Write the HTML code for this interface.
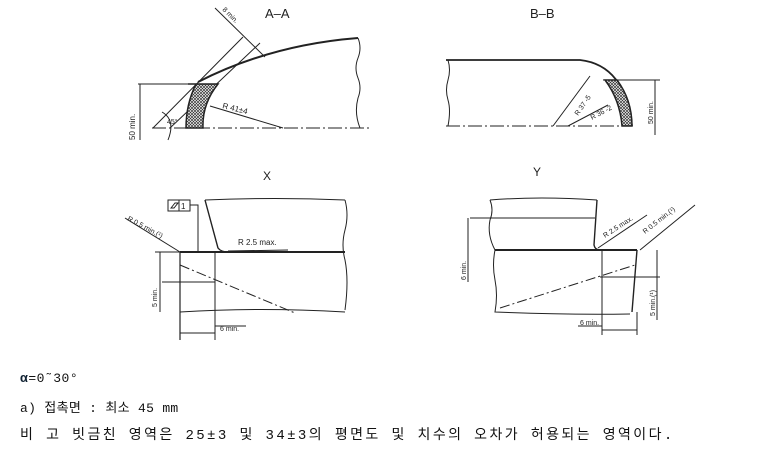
<!DOCTYPE html>
<html><head><meta charset="utf-8"><style>
body{margin:0;background:#fff;width:773px;height:450px;overflow:hidden}
svg{position:absolute;left:0;top:0}
.t{position:absolute;left:20px;font-family:"Liberation Mono","Noto Sans CJK KR",monospace;font-size:14px;color:#111;white-space:nowrap}
</style></head><body>
<svg width="773" height="450" font-family="Liberation Sans, sans-serif" fill="none" stroke="#222" stroke-width="1">
<defs>
<pattern id="h" width="3" height="3" patternUnits="userSpaceOnUse"><rect width="3" height="3" fill="#fff" stroke="none"/><path d="M0,0L3,3M3,0L0,3" stroke="#333" stroke-width="0.7"/></pattern>
</defs>
<text x="265" y="18" fill="#222" stroke="none" font-size="13">A–A</text>
<path d="M152,128H370" stroke-dasharray="14,3,2,3"/>
<path d="M198,82 Q270,45 358,38" stroke-width="2"/>
<path d="M358,38 q4,10 0,20 q-4,10 0,20 q4,10 0,20 q-4,15 2,30"/>
<path d="M153,128 L243,37 M170,128 L260,43"/>
<path d="M215,8 L265,57"/>
<path d="M138,84H218"/>
<path d="M140,84V140"/>
<path d="M188,84 H218 Q202,104 203,128 H186 Q186,104 196,84Z" fill="url(#h)" stroke-width="1.5"/>
<path d="M210,106 L283,128"/>
<text x="222" y="108" fill="#222" stroke="none" font-size="8" transform="rotate(14 222 108)">R 41±4</text>
<text x="135" y="140" fill="#222" stroke="none" font-size="8" transform="rotate(-90 135 140)">50 min.</text>
<text x="167" y="124" fill="#222" stroke="none" font-size="7">45°</text>
<text x="222" y="10" fill="#222" stroke="none" font-size="7" transform="rotate(45 222 10)">8 min.</text>
<path d="M162,112 q14,8 6,28"/>
<text x="530" y="18" fill="#222" stroke="none" font-size="13">B–B</text>
<path d="M446,60 H580 Q625,65 632,126" stroke-width="1.8"/>
<path d="M448,60 q3,10 0,20 q-3,10 0,20 q3,10 0,26"/>
<path d="M446,126H632" stroke-dasharray="14,3,2,3"/>
<path d="M605,80 H617 Q632,100 632,126 H622 Q620,100 605,80Z" fill="url(#h)" stroke-width="1.5"/>
<path d="M603,80H660 M655,80V135"/>
<path d="M553,126 L590,76 M568,126 L608,105"/>
<text x="578" y="116" fill="#222" stroke="none" font-size="7" transform="rotate(-55 578 116)">R 37 -5</text>
<text x="592" y="120" fill="#222" stroke="none" font-size="7" transform="rotate(-28 592 120)">R 36 -2</text>
<text x="653" y="124" fill="#222" stroke="none" font-size="7" transform="rotate(-90 653 124)">50 min.</text>
<text x="263" y="180" fill="#222" stroke="none" font-size="12">X</text>
<path d="M205,200 L218,248 Q221,252 228,252" stroke-width="1.4"/>
<path d="M205,200 q70,-3 140,0"/>
<path d="M345,200 q4,15 0,30 q-4,15 0,30 q4,20 0,50"/>
<path d="M180,252H345" stroke-width="2"/>
<path d="M180,252V340" stroke-width="1.2"/>
<path d="M180,312 q80,-5 165,0"/>
<path d="M180,265 L295,313" stroke-dasharray="10,3,2,3"/>
<path d="M215,252V340 M162,282H215 M155,252H180 M160,252V312 M180,333H215 M215,326H246"/>
<rect x="168" y="200" width="11" height="11"/><rect x="179" y="200" width="11" height="11"/>
<path d="M190,205 H198 V252"/>
<text x="181" y="209" fill="#222" stroke="none" font-size="8">1</text>
<path d="M171,208 l4,-5 l3,0 l-4,5z"/>
<path d="M125,218 L180,252"/>
<text x="127" y="220" fill="#222" stroke="none" font-size="7" transform="rotate(28 127 220)">R 0.5 min.(¹)</text>
<path d="M228,251 L288,250"/>
<text x="238" y="245" fill="#222" stroke="none" font-size="8">R 2.5 max.</text>
<text x="157" y="307" fill="#222" stroke="none" font-size="7" transform="rotate(-90 157 307)">5 min.</text>
<text x="220" y="331" fill="#222" stroke="none" font-size="7">6 min.</text>
<text x="533" y="176" fill="#222" stroke="none" font-size="12">Y</text>
<path d="M490,200 q50,-4 107,0"/>
<path d="M490,200 q4,10 0,20 q-3,15 5,30"/>
<path d="M597,200 L594,245 Q595,250 600,250" stroke-width="1.4"/>
<path d="M470,218H595"/>
<path d="M495,250H637" stroke-width="2"/>
<path d="M495,250 q-3,15 0,30 q3,15 0,32 q70,3 135,2"/>
<path d="M637,250 L632,312" stroke-width="1.4"/>
<path d="M602,250V335 M600,277H660 M468,218V282 M657,250V320 M602,330H637 M637,312V335 M578,326H602"/>
<path d="M500,308 L635,265" stroke-dasharray="10,3,2,3"/>
<path d="M598,248 L647,215 M640,250 L695,205"/>
<text x="605" y="238" fill="#222" stroke="none" font-size="7" transform="rotate(-33 605 238)">R 2.5 max.</text>
<text x="645" y="234" fill="#222" stroke="none" font-size="7" transform="rotate(-38 645 234)">R 0.5 min.(¹)</text>
<text x="466" y="280" fill="#222" stroke="none" font-size="7" transform="rotate(-90 466 280)">6 min.</text>
<text x="655" y="316" fill="#222" stroke="none" font-size="7" transform="rotate(-90 655 316)">5 min.(¹)</text>
<text x="580" y="325" fill="#222" stroke="none" font-size="7">6 min.</text>
</svg>
<div class="t" style="top:371px;font-size:13px;letter-spacing:0.5px"><b style="color:#123">α</b>=0˜30°</div>
<div class="t" style="top:397px;font-size:13px;letter-spacing:0.3px">a) 접촉면 : 최소 45 mm</div>
<div class="t" style="top:424px;letter-spacing:2.4px">비 고  빗금친 영역은 25±3 및 34±3의 평면도 및 치수의 오차가 허용되는 영역이다.</div>
</body></html>
